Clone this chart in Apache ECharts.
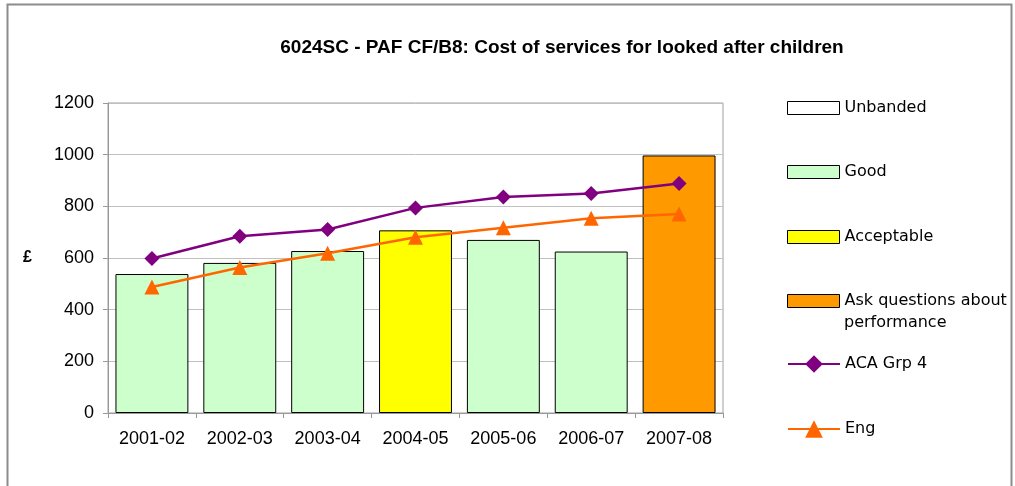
<!DOCTYPE html>
<html>
<head>
<meta charset="utf-8">
<script src="https://cdn.jsdelivr.net/npm/echarts@6/dist/echarts.min.js"></script>
<style>
  html, body { margin: 0; padding: 0; background: #fff; }
  #chart { width: 1015px; height: 486px; }
</style>
</head>
<body>
<div id="chart"></div>
<script>
// Financial years on the category axis
const years = ['2001-02', '2002-03', '2003-04', '2004-05', '2005-06', '2006-07', '2007-08'];
// Cost per year (£) for the authority, and the band each year falls into
const cost = [538, 581, 627, 707, 670, 625, 997];
const band = ['Good', 'Good', 'Good', 'Acceptable', 'Good', 'Good', 'Ask questions about performance'];
// Comparator lines
const acaGrp4 = [598, 684, 710, 794, 836, 850, 888];
const eng = [488, 563, 618, 680, 717, 754, 770];
// Value axis ticks
const yTicks = [0, 200, 400, 600, 800, 1000, 1200];

const bands = [
  { name: 'Unbanded', color: '#ffffff' },
  { name: 'Good', color: '#ccffcc' },
  { name: 'Acceptable', color: '#ffff00' },
  { name: 'Ask questions about performance', color: '#ff9900' }
];

const chart = echarts.init(document.getElementById('chart'), null, { renderer: 'canvas' });

const barSeries = bands.map(b => ({
  name: b.name,
  type: 'bar',
  stack: 'band',
  barCategoryGap: '17%',
  itemStyle: { color: b.color, borderColor: '#000', borderWidth: 1 },
  data: cost.map((v, i) => band[i] === b.name ? v : null),
  z: 2
}));

const legendFont = { fontFamily: 'DejaVu Sans', fontSize: 16, color: '#000', lineHeight: 22 };
const legendNames = bands.map(b => b.name).concat(['ACA Grp 4', 'Eng']);
const legendCenters = [108, 172, 237, 301, 364, 429];

// One legend block per entry so each row sits at its own height
const legends = legendNames.map((n, i) => {
  const isLine = i >= 4;
  const h = isLine ? 22 : 13;
  const lg = {
    data: [isLine ? n : { name: n, icon: 'rect' }],
    orient: 'vertical',
    left: 787,
    top: legendCenters[i] - 11,
    itemWidth: 52,
    itemHeight: h,
    itemGap: 0,
    padding: 0,
    textStyle: legendFont,
    selectedMode: false,
    formatter: name => name === 'Ask questions about performance' ? 'Ask questions about' : name
  };
  if (!isLine) lg.itemStyle = { borderColor: '#000', borderWidth: 1 };
  return lg;
});

chart.setOption({
  animation: false,
  backgroundColor: '#fff',
  title: {
    text: '6024SC - PAF CF/B8: Cost of services for looked after children',
    left: 557,
    textAlign: 'center',
    top: 33,
    textStyle: { fontFamily: 'Liberation Sans', fontWeight: 'bold', fontSize: 19, color: '#000' }
  },
  graphic: [
    {
      type: 'polyline',
      shape: { points: [[7.5, 486], [7.5, 4.5], [1011.5, 4.5], [1011.5, 486]] },
      style: { stroke: '#8c8c8c', lineWidth: 2, fill: null },
      silent: true
    },
    {
      // second line of the long band name in the legend
      type: 'text',
      left: 844,
      top: 315,
      style: { text: 'performance', font: '16px "DejaVu Sans"', fill: '#000' },
      silent: true
    }
  ],
  legend: legends,
  grid: {
    left: 108, right: 292, top: 103, bottom: 73,
    show: true, borderColor: '#a0a0a0', borderWidth: 1, backgroundColor: 'transparent'
  },
  xAxis: {
    type: 'category',
    data: years,
    axisLine: { lineStyle: { color: '#999', width: 1 } },
    axisTick: { show: true, length: 5, lineStyle: { color: '#999' } },
    axisLabel: { fontFamily: 'Liberation Sans', fontSize: 18, color: '#000', margin: 17 }
  },
  yAxis: {
    type: 'value',
    min: yTicks[0],
    max: yTicks[yTicks.length - 1],
    interval: 200,
    name: '£',
    nameLocation: 'middle',
    nameRotate: 0,
    nameGap: 76,
    nameTextStyle: { fontFamily: 'Liberation Sans', fontWeight: 'bold', fontSize: 16, color: '#000' },
    axisLine: { show: true, lineStyle: { color: '#999', width: 1 } },
    axisTick: { show: true, length: 5, lineStyle: { color: '#999' } },
    axisLabel: {
      fontFamily: 'Liberation Sans', fontSize: 18, color: '#000', margin: 14,
      formatter: v => String(v)
    },
    splitLine: { show: true, lineStyle: { color: '#c0c0c0', width: 1 } }
  },
  series: barSeries.concat([
    {
      name: 'ACA Grp 4',
      type: 'line',
      data: acaGrp4,
      symbol: 'diamond',
      symbolSize: 15,
      lineStyle: { color: '#800080', width: 2.5 },
      itemStyle: { color: '#800080' },
      z: 4
    },
    {
      name: 'Eng',
      type: 'line',
      data: eng,
      symbol: 'triangle',
      symbolSize: 15,
      lineStyle: { color: '#ff6600', width: 2.5 },
      itemStyle: { color: '#ff6600' },
      z: 5
    }
  ])
});
</script>
</body>
</html>
